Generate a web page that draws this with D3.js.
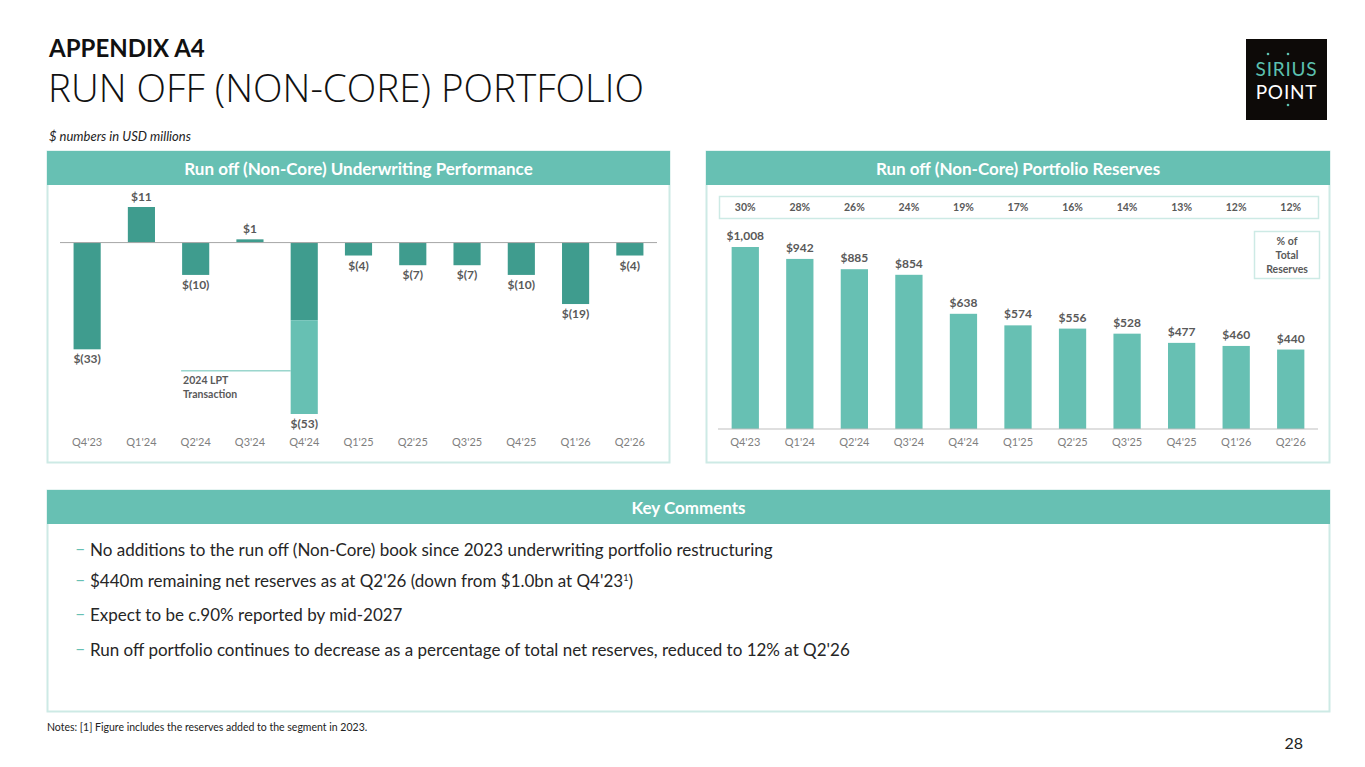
<!DOCTYPE html>
<meta charset="utf-8">
<style>

body {
  margin: 0;
  background: #fff;
}

text {
  font-family: Lato, "Open Sans", sans-serif;
}

.val {
  font-size: 12px;
  font-weight: 700;
  fill: #595959;
}

.tick text {
  font-size: 11px;
  fill: #7f7f7f;
}

</style>
<body>
<script src="https://cdn.jsdelivr.net/npm/d3@7"></script>
<script>

var quarters = ["Q4'23", "Q1'24", "Q2'24", "Q3'24", "Q4'24", "Q1'25", "Q2'25", "Q3'25", "Q4'25", "Q1'26", "Q2'26"];

// underwriting result, $m (Q4'24 split into underlying + 2024 LPT)
var underwriting = [-33, 11, -10, 1, -24, -4, -7, -7, -10, -19, -4];
var lpt = [0, 0, 0, 0, -29, 0, 0, 0, 0, 0, 0];
var underwritingTotal = [-33, 11, -10, 1, -53, -4, -7, -7, -10, -19, -4];

var reserves = [1008, 942, 885, 854, 638, 574, 556, 528, 477, 460, 440];
var pctOfTotal = [30, 28, 26, 24, 19, 17, 16, 14, 13, 12, 12];

var comments = [
  "No additions to the run off (Non-Core) book since 2023 underwriting portfolio restructuring",
  "$440m remaining net reserves as at Q2'26 (down from $1.0bn at Q4'23",
  "Expect to be c.90% reported by mid-2027",
  "Run off portfolio continues to decrease as a percentage of total net reserves, reduced to 12% at Q2'26"
];

var teal = "#67c0b3",
    darkTeal = "#3f9c8e",
    border = "#cdeae5";

var w = 1365, h = 767;

var svg = d3.select("body").append("svg")
    .attr("width", w)
    .attr("height", h);

// titles
svg.append("text")
    .attr("x", 49).attr("y", 57)
    .style("font-size", "24px").style("font-weight", 700).style("fill", "#111")
    .text("APPENDIX A4");

svg.append("text")
    .attr("x", 48).attr("y", 102)
    .style("font-family", "'Open Sans', sans-serif")
    .style("font-size", "38.6px").style("font-weight", 300).style("fill", "#111")
    .text("RUN OFF (NON-CORE) PORTFOLIO");

svg.append("text")
    .attr("x", 49).attr("y", 141)
    .style("font-size", "13px").style("font-style", "italic").style("fill", "#222")
    .text("$ numbers in USD millions");

// logo
var logo = svg.append("g").attr("transform", "translate(1246,39)");
logo.append("rect").attr("width", 81).attr("height", 81).style("fill", "#0d0a08");
logo.append("text").attr("x", 40.5).attr("y", 37).attr("text-anchor", "middle")
    .style("font-size", "19px").style("fill", "#5cc1b0").style("letter-spacing", "0.8px")
    .text("SIRIUS");
logo.append("text").attr("x", 40.5).attr("y", 60).attr("text-anchor", "middle")
    .style("font-size", "19px").style("fill", "#fff").style("letter-spacing", "0.8px")
    .text("POINT");
[[22, 15], [42, 15], [42, 66]].forEach(function(p) {
  logo.append("circle").attr("cx", p[0]).attr("cy", p[1]).attr("r", 1.3).style("fill", "#5cc1b0");
});

function panel(x, y, pw, ph, title) {
  var g = svg.append("g").attr("transform", "translate(" + x + "," + y + ")");
  g.append("rect").attr("x", 0.5).attr("y", 0.5).attr("width", pw - 1).attr("height", ph - 1)
      .style("fill", "#fff").style("stroke", border).style("stroke-width", 2);
  g.append("rect").attr("width", pw).attr("height", 34).style("fill", teal);
  g.append("text").attr("x", pw / 2).attr("y", 23.5).attr("text-anchor", "middle")
      .style("font-size", "17px").style("font-weight", 700).style("fill", "#fff")
      .text(title);
  return g;
}

panel(47, 151, 623, 312, "Run off (Non-Core) Underwriting Performance");
panel(706, 151, 624, 312, "Run off (Non-Core) Portfolio Reserves");
panel(47, 490, 1283, 222, "Key Comments");

function money(v) {
  var s = "$" + d3.format(",")(Math.abs(v));
  return v < 0 ? s.replace("$", "$(") + ")" : s;
}

// ---- left chart: underwriting performance
var x1 = d3.scaleBand().domain(quarters).range([60, 657]).paddingInner(0.5).paddingOuter(0.25);
var y1 = d3.scaleLinear().domain([-53, 11]).range([414, 207]);

var left = svg.append("g");

left.selectAll(".uw")
    .data(underwriting)
  .enter().append("rect")
    .attr("x", function(d, i) { return x1(quarters[i]); })
    .attr("width", x1.bandwidth())
    .attr("y", function(d) { return y1(Math.max(0, d)); })
    .attr("height", function(d) { return Math.abs(y1(d) - y1(0)); })
    .style("fill", darkTeal);

left.selectAll(".lpt")
    .data(lpt)
  .enter().append("rect")
    .attr("x", function(d, i) { return x1(quarters[i]); })
    .attr("width", x1.bandwidth())
    .attr("y", function(d, i) { return y1(underwriting[i]); })
    .attr("height", function(d) { return Math.abs(y1(d) - y1(0)); })
    .style("fill", teal);

left.append("line")
    .attr("x1", 60).attr("x2", 657)
    .attr("y1", y1(0)).attr("y2", y1(0))
    .style("stroke", "#a6a6a6").style("stroke-width", 1);

left.selectAll(".val")
    .data(underwritingTotal)
  .enter().append("text")
    .attr("class", "val")
    .attr("text-anchor", "middle")
    .attr("x", function(d, i) { return x1(quarters[i]) + x1.bandwidth() / 2; })
    .attr("y", function(d) { return d >= 0 ? y1(d) - 6 : y1(d) + 14; })
    .text(money);

// LPT annotation
var lptY = y1(underwriting[4]) + (y1(underwritingTotal[4]) - y1(underwriting[4])) * 0.54;
left.append("line")
    .attr("x1", x1("Q2'24") - 1).attr("x2", x1("Q4'24"))
    .attr("y1", lptY).attr("y2", lptY)
    .style("stroke", teal).style("stroke-width", 1);
left.append("text")
    .attr("class", "val").style("font-size", "10.5px")
    .attr("x", x1("Q2'24") + 1).attr("y", lptY + 13)
    .text("2024 LPT");
left.append("text")
    .attr("class", "val").style("font-size", "10.5px")
    .attr("x", x1("Q2'24") + 1).attr("y", lptY + 27)
    .text("Transaction");

left.append("g")
    .attr("transform", "translate(0,438)")
    .call(d3.axisBottom(x1).tickSize(0).tickPadding(0))
    .call(function(g) { g.select(".domain").remove(); })
    .selectAll("text").attr("dy", "0.71em").style("font-family", "Lato, sans-serif");

// ---- right chart: reserves
var x2 = d3.scaleBand().domain(quarters).range([718, 1318]).paddingInner(0.5).paddingOuter(0.25);
var y2 = d3.scaleLinear().domain([0, 1008]).range([429, 247]);

var right = svg.append("g");

right.selectAll(".res")
    .data(reserves)
  .enter().append("rect")
    .attr("x", function(d, i) { return x2(quarters[i]); })
    .attr("width", x2.bandwidth())
    .attr("y", function(d) { return y2(d); })
    .attr("height", function(d) { return y2(0) - y2(d); })
    .style("fill", teal);

right.append("line")
    .attr("x1", 718).attr("x2", 1318)
    .attr("y1", y2(0)).attr("y2", y2(0))
    .style("stroke", "#bfbfbf").style("stroke-width", 1);

right.selectAll(".val")
    .data(reserves)
  .enter().append("text")
    .attr("class", "val")
    .attr("text-anchor", "middle")
    .attr("x", function(d, i) { return x2(quarters[i]) + x2.bandwidth() / 2; })
    .attr("y", function(d) { return y2(d) - 7; })
    .text(money);

right.append("g")
    .attr("transform", "translate(0,438)")
    .call(d3.axisBottom(x2).tickSize(0).tickPadding(0))
    .call(function(g) { g.select(".domain").remove(); })
    .selectAll("text").attr("dy", "0.71em").style("font-family", "Lato, sans-serif");

// % of total strip
right.append("rect")
    .attr("x", 719.5).attr("y", 196.5).attr("width", 599).attr("height", 22)
    .style("fill", "#fff").style("stroke", border).style("stroke-width", 1.5);

right.selectAll(".pct")
    .data(pctOfTotal)
  .enter().append("text")
    .attr("class", "val").style("font-size", "10.5px")
    .attr("text-anchor", "middle")
    .attr("x", function(d, i) { return x2(quarters[i]) + x2.bandwidth() / 2; })
    .attr("y", 211)
    .text(function(d) { return d + "%"; });

right.append("rect")
    .attr("x", 1254.5).attr("y", 231.5).attr("width", 65).attr("height", 47)
    .style("fill", "#fff").style("stroke", border).style("stroke-width", 1.5);
["% of", "Total", "Reserves"].forEach(function(t, i) {
  right.append("text")
      .attr("class", "val").style("font-size", "10.5px")
      .attr("text-anchor", "middle")
      .attr("x", 1287).attr("y", 245 + i * 14)
      .text(t);
});

// ---- key comments
var cy = [556, 587, 621, 656];
var cm = svg.append("g");
comments.forEach(function(c, i) {
  cm.append("text")
      .attr("x", 75).attr("y", cy[i] - 1)
      .style("font-size", "18px").style("fill", teal)
      .text("–");
  var t = cm.append("text")
      .attr("x", 90).attr("y", cy[i])
      .style("font-size", "17px").style("fill", "#262626")
      .text(c);
  if (i === 1) {
    t.append("tspan").attr("dy", -6).style("font-size", "9px").text("1");
    t.append("tspan").attr("dy", 6).text(")");
  }
});

svg.append("text")
    .attr("x", 47).attr("y", 731)
    .style("font-size", "10.5px").style("fill", "#222")
    .text("Notes: [1] Figure includes the reserves added to the segment in 2023.");

svg.append("text")
    .attr("x", 1303).attr("y", 749).attr("text-anchor", "end")
    .style("font-size", "16px").style("fill", "#222")
    .text("28");

</script>
